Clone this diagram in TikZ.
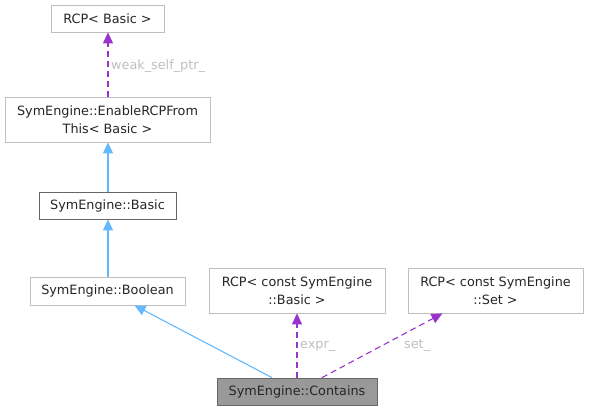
\documentclass[tikz,border=0pt]{standalone}
\usepackage{fontspec}
\setmainfont{DejaVu Sans}
\usetikzlibrary{arrows.meta}
\definecolor{edgeblue}{HTML}{63B8FF}
\definecolor{edgepurple}{HTML}{9A32CD}
\definecolor{boxgray}{HTML}{BFBFBF}
\definecolor{boxdark}{HTML}{666666}
\definecolor{fillgray}{HTML}{999999}
\definecolor{labelgray}{HTML}{BFBFBF}
\begin{document}
\begin{tikzpicture}[x=1pt,y=-1pt,
  every node/.style={font=\fontsize{12.8}{17.5}\selectfont, text=black!85, inner sep=0pt, align=center},
  cls/.style={draw=boxgray, line width=0.8pt, fill=white},
  clsdark/.style={draw=boxdark, line width=0.8pt, fill=white},
  clscur/.style={draw=boxdark, line width=0.8pt, fill=fillgray},
  inherit/.style={color=edgeblue, line width=1.1pt, -{Triangle[length=11pt,width=10pt]}},
  member/.style={color=edgepurple, line width=1.1pt, dash pattern=on 6pt off 4pt, -{Triangle[length=11pt,width=10pt]}},
  elabel/.style={text=labelgray, anchor=west}]
\useasboundingbox (0,0) rectangle (589,412);
\node[cls, minimum width=113pt, minimum height=27pt] (rcpb) at (107.5,18.5) {RCP< Basic >};
\node[cls, minimum width=205pt, minimum height=45pt] (enable) at (107.5,119.5) {SymEngine::EnableRCPFrom\\This< Basic >};
\node[clsdark, minimum width=137pt, minimum height=27pt] (basic) at (107.5,205.5) {SymEngine::Basic};
\node[cls, minimum width=155pt, minimum height=28pt] (bool) at (107.5,291) {SymEngine::Boolean};
\node[cls, minimum width=176pt, minimum height=45pt] (rcpcb) at (297,290.5) {RCP< const SymEngine\\::Basic >};
\node[cls, minimum width=175pt, minimum height=45pt] (rcpcs) at (495.5,290.5) {RCP< const SymEngine\\::Set >};
\node[clscur, minimum width=160pt, minimum height=27pt] (cont) at (297,391.5) {SymEngine::Contains};

\draw[member] ([xshift=0.5pt]enable.north) -- ([xshift=0.5pt]rcpb.south);
\node[elabel] (l1) at (111,66) {weak\_self\_ptr\_};
\draw[inherit] ([xshift=0.5pt]basic.north) -- ([xshift=0.5pt]enable.south);
\draw[inherit] ([xshift=0.5pt]bool.north) -- ([xshift=0.5pt]basic.south);
\draw[inherit] ([xshift=-25pt]cont.north) -- ([xshift=27pt]bool.south);
\draw[member] (cont.north) -- (rcpcb.south);
\node[elabel] (l2) at (300,346) {expr\_};
\draw[member] ([xshift=25pt]cont.north) -- ([xshift=-53pt]rcpcs.south);
\node[elabel] (l3) at (404,346) {set\_};
\end{tikzpicture}
\end{document}
